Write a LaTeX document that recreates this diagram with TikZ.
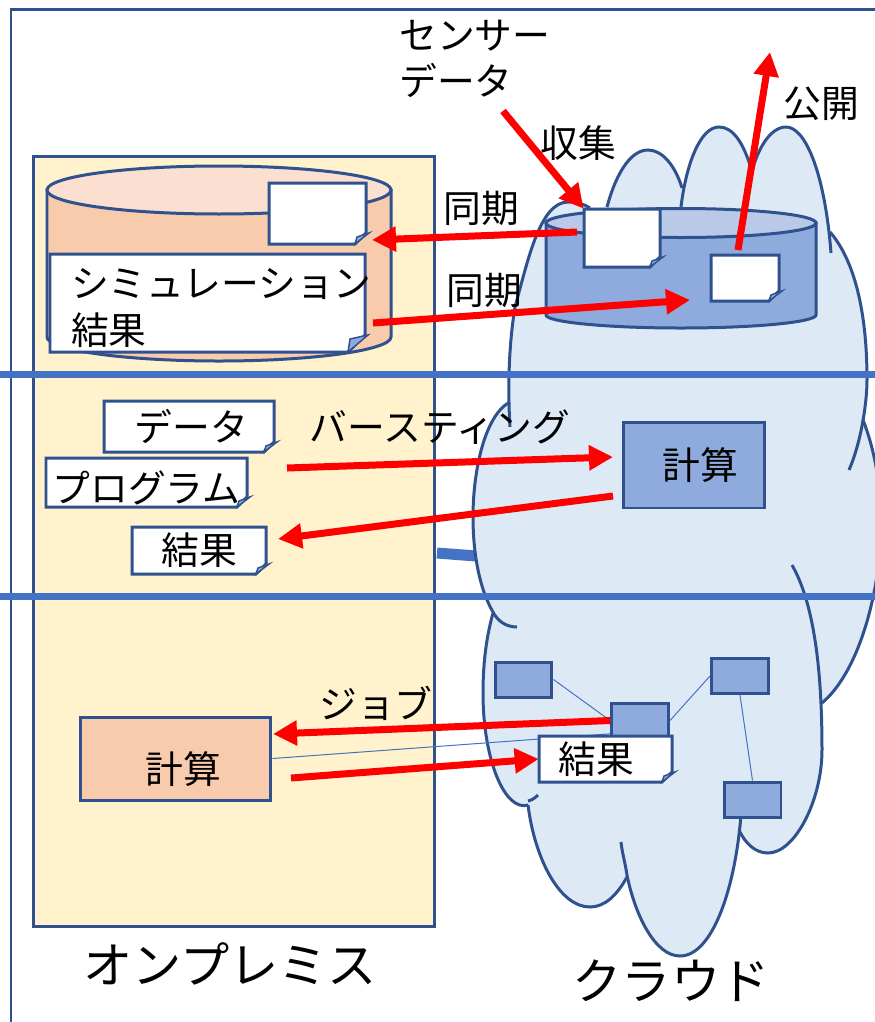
\documentclass[tikz,border=0pt]{standalone}
\usepackage{fontspec}
\setmainfont{Noto Sans CJK JP}
\usepackage{xcolor}
\usetikzlibrary{arrows.meta}

\definecolor{edgeblue}{HTML}{2F528F}
\definecolor{bandblue}{HTML}{4472C4}
\definecolor{boxblue}{HTML}{8FAADC}
\definecolor{lidblue}{HTML}{BAC9E8}
\definecolor{cloudblue}{HTML}{DEE9F6}
\definecolor{boxorange}{HTML}{F8CBAD}
\definecolor{lidorange}{HTML}{FBE0D2}
\definecolor{premyellow}{HTML}{FFF2CC}

\tikzset{
  shapeline/.style={draw=edgeblue, line width=0.06cm},
  band/.style={draw=bandblue, line width=0.14cm},
  wire/.style={draw=bandblue, line width=0.02cm},
  flow/.style={draw=red, line width=0.14cm, -{Triangle[length=0.48cm,width=0.48cm]}},
  calcbox/.style={shapeline, fill=boxblue, rectangle, inner sep=0pt},
  notetext/.style={inner sep=0pt, align=center},
  caption/.style={inner sep=0pt, align=left},
  lobeA/.style={insert path={-- (510,427) .. controls (508,395) and (508,350) .. (515,307) .. controls (528,260) and (540,202) .. (568,202) .. controls (577,202) and (584,204) .. (590,208)}},
  lobeB/.style={insert path={-- (607,207) .. controls (617,170) and (632,150) .. (648,150) .. controls (662,150) and (675,165) .. (682,188)}},
  lobeC/.style={insert path={-- (681,207) .. controls (686,165) and (700,127) .. (719,127) .. controls (733,127) and (743,143) .. (750,165)}},
  lobeD/.style={insert path={-- (750,180) .. controls (756,150) and (770,127) .. (786,127) .. controls (806,127) and (825,175) .. (831,253)}},
  lobeE/.style={insert path={-- (830,232) .. controls (850,255) and (867,300) .. (867,380) .. controls (867,400) and (862,440) .. (849,470)}},
  lobeF/.style={insert path={-- (863,420) .. controls (875,450) and (885,500) .. (880,550) .. controls (875,610) and (855,675) .. (822,703)}},
  lobeG/.style={insert path={-- (792,565) .. controls (812,600) and (822,660) .. (822,750) .. controls (822,800) and (795,853) .. (768,853) .. controls (755,853) and (745,843) .. (739,830)}},
  lobeH/.style={insert path={-- (741,815) .. controls (735,890) and (712,956) .. (680,956) .. controls (655,956) and (635,915) .. (627,875) .. controls (625,862) and (622,852) .. (621,842)}},
  lobeI/.style={insert path={-- (627,877) .. controls (617,895) and (605,907) .. (590,907) .. controls (560,907) and (535,860) .. (528,805)}},
  lobeJ/.style={insert path={-- (538,795) .. controls (535,798) and (532,800) .. (528,801)}},
  lobeK/.style={insert path={-- (528,805) .. controls (505,812) and (483,760) .. (483,693) .. controls (483,660) and (487,635) .. (493,613)}},
  lobeL/.style={insert path={-- (517,627) .. controls (505,627) and (497,620) .. (493,612) .. controls (480,590) and (473,555) .. (473,517) .. controls (473,470) and (485,415) .. (510,402)}},
}

% note with a turned-up corner: name, left, top, right, bottom, corner size, text
\newcommand{\notebox}[7]{
  \path[shapeline, fill=white] (#2,#3) -- (#4,#3) -- (#4,{#5-#6}) -- ({#4-#6},#5) -- (#2,#5) -- cycle;
  \path[shapeline, fill=boxblue, line width=0.03cm] ({#4+3},{#5-#6}) -- ({#4-#6+2},{#5-#6+4}) -- ({#4-#6},#5) -- cycle;
  \node[notetext, minimum width={(#4-#2)*0.02cm}, minimum height={(#5-#3)*0.02cm}] (#1) at ({(#2+#4)/2},{(#3+#5)/2}) {#7};
}

\begin{document}
\begin{tikzpicture}[x=0.02cm, y=-0.02cm, every node/.append style={font=\fontsize{21.5}{26.5}\selectfont}]
  \path[use as bounding box, clip] (0,0) rectangle (875,1022);
  \fill[white] (0,0) rectangle (875,1022);

  % outer frame
  \draw[shapeline] (11,1022) -- (11,9) -- (875,9);

  % on-premises area
  \node[shapeline, fill=premyellow, rectangle, minimum width=8.04cm, minimum height=15.42cm] (premises) at (234,541.5) {};

  % cloud
  \coordinate (linkStart) at (437,553);
  \coordinate (linkEnd) at (476,556);
  \draw[draw=bandblue, line width=0.22cm] (linkStart) -- (linkEnd);
  \fill[cloudblue] (510,427) [lobeA] [lobeB] [lobeC] [lobeD] [lobeE] [lobeF] [lobeG] [lobeH] [lobeI] [lobeK] [lobeL] -- cycle;
  \foreach \lobe/\first in {lobeA/{510,427}, lobeB/{607,207}, lobeC/{681,207}, lobeD/{750,180}, lobeE/{830,232}, lobeF/{863,420}, lobeG/{792,565}, lobeH/{741,815}, lobeI/{627,877}, lobeJ/{538,795}, lobeK/{528,805}, lobeL/{517,627}}
    \path[shapeline] (\first) [\lobe];

  % storage on premises
  \path[shapeline, fill=boxorange] (47,190) -- (47,337) .. controls (47,350) and (124,361) .. (219,361) .. controls (314,361) and (391,350) .. (391,337) -- (391,190) -- cycle;
  \path[shapeline, fill=lidorange] (219,190) ellipse [x radius=3.44cm, y radius=0.48cm];
  \notebox{localCopy}{269}{183}{366}{244}{11}{}
  \notebox{simResult}{50}{254}{365}{352}{17}{\parbox{6.3cm}{\vspace*{0.2cm}\hspace*{0.42cm}シミュレーション\\\hspace*{0.42cm}結果}}

  % storage in the cloud
  \path[shapeline, fill=boxblue] (546,223) -- (546,315) .. controls (546,322) and (606,328) .. (681,328) .. controls (756,328) and (816,322) .. (816,315) -- (816,223) -- cycle;
  \path[shapeline, fill=lidblue] (681,223) ellipse [x radius=2.7cm, y radius=0.29cm];
  \notebox{sensorCopy}{584}{209}{660}{267}{10}{}
  \notebox{publicCopy}{711}{255}{779}{301}{10}{}

  % bursting
  \node[calcbox, minimum width=2.84cm, minimum height=1.72cm] (burstCalc) at (694,465) {\hspace*{0.24cm}計算};
  \notebox{burstData}{104}{401}{274}{452}{10}{\hspace*{0.1cm}データ}
  \notebox{burstProg}{46}{458}{247}{507}{10}{\raisebox{-0.4cm}[0.3cm][0.3cm]{プログラム}}
  \notebox{burstResult}{132}{527}{266}{574}{10}{結果}

  % jobs
  \node[calcbox, fill=boxorange, minimum width=3.82cm, minimum height=1.66cm] (localCalc) at (175.5,758.5) {\raisebox{-0.5cm}[0.3cm][0.3cm]{\hspace*{0.32cm}計算}};
  \node[calcbox, minimum width=1.14cm, minimum height=0.7cm] (workerA) at (523.5,679.5) {};
  \node[calcbox, minimum width=1.14cm, minimum height=0.7cm] (workerB) at (640,720.5) {};
  \node[calcbox, minimum width=1.14cm, minimum height=0.7cm] (workerC) at (740,676) {};
  \node[calcbox, minimum width=1.14cm, minimum height=0.7cm] (workerD) at (752.5,799.5) {};
  \draw[wire] (workerA.east) -- (workerB.west);
  \draw[wire] (workerC.west) -- (workerB.east);
  \draw[wire] (workerC.south) -- (workerD.north);
  \draw[wire] (localCalc.east) -- (workerB.204);
  \notebox{jobResult}{539}{736}{672}{782}{10}{\hspace*{-0.36cm}結果}

  % bands between the rows
  \draw[band] (0,374) -- (875,374);
  \draw[band] (0,596) -- (875,596);

  % flows
  \coordinate (sensorIn) at (503,111);
  \coordinate (syncOut) at (577,232);
  \coordinate (syncIn) at (372,240);
  \coordinate (syncBack) at (373,323);
  \coordinate (syncTo) at (690,300);
  \coordinate (publicFrom) at (738,250);
  \coordinate (publicTo) at (770,52);
  \coordinate (burstFrom) at (287,468);
  \coordinate (burstTo) at (613,457);
  \coordinate (backFrom) at (613,496);
  \coordinate (backTo) at (278,539);
  \coordinate (jobTo) at (273,734);
  \coordinate (doneFrom) at (291,778);
  \draw[flow] (sensorIn) -- (sensorCopy.north west);
  \draw[flow] (syncOut) -- (syncIn);
  \draw[flow] (syncBack) -- (syncTo);
  \draw[flow] (publicFrom) -- (publicTo);
  \draw[flow] (burstFrom) -- (burstTo);
  \draw[flow] (backFrom) -- (backTo);
  \draw[flow] (workerB.west) -- (jobTo);
  \draw[flow] (doneFrom) -- (jobResult.west);

  % labels
  \node[caption, anchor=west] (sensorLabel) at (399,59) {センサー\\データ};
  \node[caption] (collectLabel) at (578,143) {収集};
  \node[caption] (publicLabel) at (821,104) {公開};
  \node[caption] (syncLabelA) at (481,208) {同期};
  \node[caption] (syncLabelB) at (484,290) {同期};
  \node[caption] (burstLabel) at (440,427) {バースティング};
  \node[caption] (jobLabel) at (376,703) {ジョブ};
  \node[caption, font=\fontsize{28}{32}\selectfont] (premisesLabel) at (230,964) {オンプレミス};
  \node[caption, font=\fontsize{28}{32}\selectfont] (cloudLabel) at (671,981) {クラウド};
\end{tikzpicture}
\end{document}
